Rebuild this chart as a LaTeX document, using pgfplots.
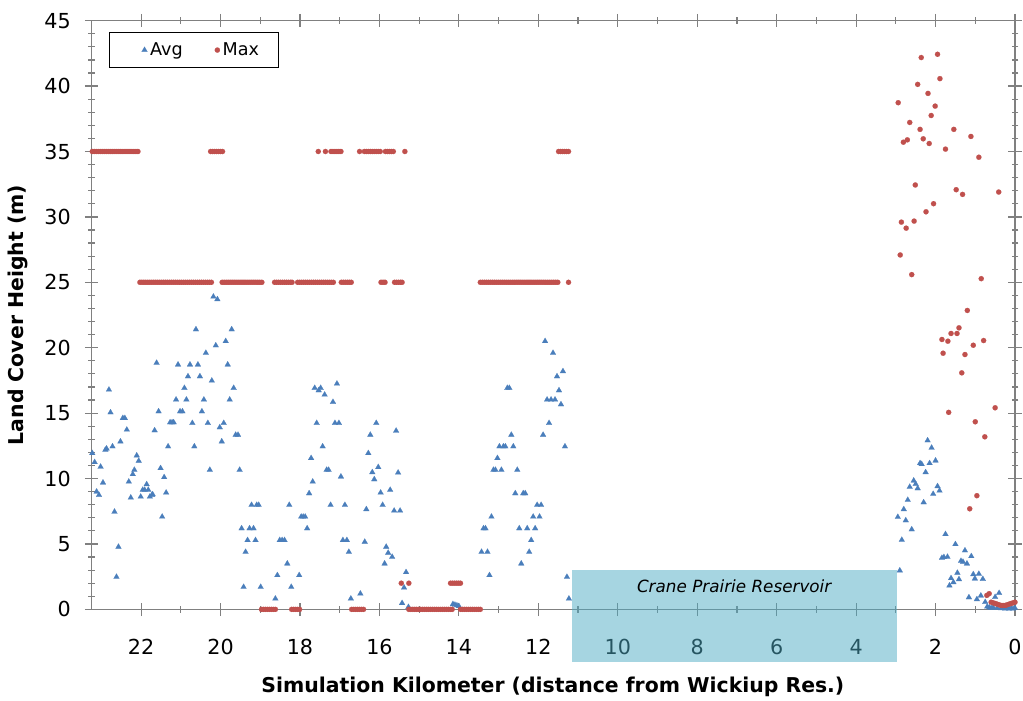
\documentclass[border=0pt]{standalone}
\usepackage{pgfplots}
\pgfplotsset{compat=1.18}
\usepackage{fontspec}
\setmainfont{DejaVu Sans}
\definecolor{avgblue}{RGB}{74,126,187}
\definecolor{maxred}{RGB}{192,80,77}
\definecolor{resv}{RGB}{77,171,195}
\definecolor{axgray}{RGB}{128,128,128}

\pgfplotstableread{
x y
23.23 11.94
23.17 11.25
23.12 9.00
23.06 8.74
23.02 10.90
22.96 9.69
22.90 12.19
22.87 12.29
22.81 16.79
22.77 15.05
22.72 12.45
22.67 7.46
22.62 2.48
22.57 4.78
22.52 12.83
22.46 14.62
22.41 14.62
22.36 13.73
22.31 9.76
22.26 8.54
22.21 10.33
22.17 10.66
22.11 11.76
22.06 11.35
22.01 8.61
21.96 9.13
21.91 9.13
21.86 9.56
21.82 9.13
21.78 8.61
21.73 8.74
21.71 8.79
21.66 13.68
21.61 18.84
21.56 15.13
21.51 10.79
21.47 7.08
21.42 10.10
21.37 8.92
21.32 12.45
21.27 14.29
21.22 14.29
21.18 14.29
21.12 16.03
21.07 18.71
21.02 15.13
20.96 15.13
20.91 16.92
20.86 16.03
20.82 17.81
20.77 18.71
20.71 14.24
20.66 12.45
20.62 21.40
20.57 18.71
20.52 17.81
20.47 15.13
20.42 16.03
20.37 19.60
20.32 14.24
20.27 10.66
20.22 17.48
20.18 23.90
20.12 20.17
20.08 23.70
20.02 13.91
19.97 12.83
19.92 14.24
19.87 20.50
19.82 18.71
19.77 16.03
19.72 21.40
19.67 16.92
19.62 13.34
19.56 13.34
19.52 10.66
19.47 6.19
19.42 1.71
19.37 4.39
19.32 5.29
19.27 6.19
19.22 7.98
19.17 6.19
19.12 5.29
19.09 7.98
19.04 7.98
18.99 1.71
18.62 0.82
18.57 2.61
18.51 5.29
18.45 5.29
18.39 5.29
18.32 3.50
18.27 7.98
18.22 1.71
18.02 2.61
17.97 7.08
17.92 7.08
17.87 7.08
17.82 6.19
17.77 8.87
17.72 11.56
17.68 9.76
17.63 16.92
17.58 14.24
17.53 16.74
17.48 16.92
17.43 12.45
17.38 16.41
17.33 10.66
17.28 10.66
17.23 7.98
17.17 15.85
17.12 14.24
17.07 17.25
17.02 14.24
16.97 10.15
16.92 5.29
16.87 7.98
16.82 5.29
16.77 4.39
16.72 0.82
16.48 1.20
16.37 5.16
16.33 7.65
16.28 11.94
16.23 13.34
16.18 10.48
16.13 9.94
16.08 14.24
16.03 10.87
15.97 8.92
15.92 7.98
15.87 3.50
15.83 4.78
15.78 4.32
15.73 9.13
15.68 4.01
15.63 7.54
15.58 13.65
15.53 10.45
15.48 7.54
15.43 0.48
15.38 1.66
15.33 2.84
15.27 0.18
14.15 0.40
14.10 0.35
14.05 0.30
14.00 0.25
13.43 4.39
13.38 6.19
13.33 6.19
13.28 4.39
13.23 2.61
13.18 7.08
13.13 10.66
13.08 10.66
13.03 11.56
12.98 12.45
12.93 10.66
12.88 12.45
12.83 12.45
12.78 16.92
12.73 16.92
12.68 13.34
12.63 12.45
12.58 8.87
12.53 10.66
12.48 6.19
12.43 3.50
12.38 8.87
12.33 8.87
12.28 6.19
12.23 4.39
12.18 5.29
12.13 7.08
12.08 6.19
12.03 7.98
11.97 7.08
11.93 7.98
11.88 13.34
11.83 20.50
11.78 16.03
11.73 14.24
11.68 16.03
11.63 19.60
11.58 16.03
11.53 17.81
11.48 16.74
11.43 15.67
11.38 18.20
11.33 12.45
11.28 2.48
11.23 0.82
2.95 7.06
2.90 2.97
2.85 5.31
2.80 7.65
2.75 6.80
2.70 8.36
2.65 9.36
2.60 6.11
2.55 9.84
2.50 9.58
2.45 9.25
2.39 11.17
2.35 11.10
2.30 8.18
2.25 10.48
2.20 12.91
2.15 11.17
2.10 12.35
2.06 8.82
2.00 11.37
1.95 9.41
1.90 9.07
1.84 3.93
1.79 3.99
1.75 5.75
1.70 4.01
1.65 1.82
1.61 2.38
1.55 2.07
1.50 4.98
1.45 2.79
1.41 2.30
1.36 3.70
1.31 3.63
1.26 4.50
1.21 3.50
1.16 0.92
1.10 4.06
1.05 2.68
1.01 2.35
0.96 0.77
0.91 2.71
0.86 1.05
0.81 2.32
0.75 0.56
0.70 0.20
0.65 0.15
0.60 0.10
0.55 0.15
0.50 0.94
0.45 0.10
0.40 1.25
0.35 0.08
0.30 0.10
0.25 0.05
0.20 0.10
0.15 0.05
0.10 0.08
0.05 0.05
0.00 0.10
}\avgdata

\pgfplotstableread{
x y
23.23 35
23.18 35
23.13 35
23.08 35
23.03 35
22.98 35
22.93 35
22.88 35
22.83 35
22.78 35
22.73 35
22.68 35
22.63 35
22.58 35
22.53 35
22.48 35
22.43 35
22.38 35
22.33 35
22.28 35
22.23 35
22.18 35
22.13 35
22.08 35
22.03 25
21.98 25
21.93 25
21.88 25
21.83 25
21.78 25
21.73 25
21.68 25
21.63 25
21.58 25
21.53 25
21.48 25
21.43 25
21.38 25
21.33 25
21.28 25
21.23 25
21.18 25
21.13 25
21.08 25
21.03 25
20.98 25
20.93 25
20.88 25
20.83 25
20.78 25
20.73 25
20.68 25
20.63 25
20.58 25
20.53 25
20.48 25
20.43 25
20.38 25
20.33 25
20.28 25
20.23 25
20.25 35
20.20 35
20.15 35
20.10 35
20.05 35
20.00 35
19.95 35
19.96 25
19.91 25
19.86 25
19.81 25
19.76 25
19.71 25
19.66 25
19.61 25
19.56 25
19.51 25
19.46 25
19.41 25
19.36 25
19.31 25
19.26 25
19.21 25
19.16 25
19.11 25
19.06 25
19.01 25
18.96 25
18.97 0
18.92 0
18.87 0
18.82 0
18.77 0
18.72 0
18.67 0
18.62 0
18.64 25
18.59 25
18.54 25
18.49 25
18.44 25
18.39 25
18.34 25
18.29 25
18.24 25
18.20 25
18.21 0
18.16 0
18.11 0
18.06 0
18.01 0
18.06 25
18.01 25
17.96 25
17.91 25
17.86 25
17.81 25
17.76 25
17.71 25
17.66 25
17.61 25
17.56 25
17.51 25
17.46 25
17.41 25
17.36 25
17.31 25
17.26 25
17.21 25
17.16 25
17.54 35
17.36 35
17.22 35
17.17 35
17.12 35
17.07 35
17.02 35
16.97 35
16.96 25
16.91 25
16.86 25
16.81 25
16.76 25
16.71 25
16.70 0
16.65 0
16.60 0
16.55 0
16.50 0
16.45 0
16.40 0
16.50 35
16.38 35
16.33 35
16.28 35
16.23 35
16.18 35
16.13 35
16.08 35
16.03 35
15.98 35
15.96 25
15.91 25
15.86 25
15.85 35
15.80 35
15.75 35
15.70 35
15.65 35
15.62 25
15.57 25
15.52 25
15.47 25
15.43 25
15.36 35
15.45 2
15.26 2
15.26 0
15.21 0
15.16 0
15.11 0
15.06 0
15.01 0
14.96 0
14.91 0
14.86 0
14.81 0
14.76 0
14.71 0
14.66 0
14.61 0
14.56 0
14.51 0
14.46 0
14.41 0
14.36 0
14.31 0
14.26 0
14.21 0
14.17 0
14.21 2
14.16 2
14.11 2
14.06 2
14.01 2
13.96 2
13.96 0
13.91 0
13.86 0
13.81 0
13.76 0
13.71 0
13.66 0
13.61 0
13.56 0
13.51 0
13.46 0
13.46 25
13.41 25
13.36 25
13.31 25
13.26 25
13.21 25
13.16 25
13.11 25
13.06 25
13.01 25
12.96 25
12.91 25
12.86 25
12.81 25
12.76 25
12.71 25
12.66 25
12.61 25
12.56 25
12.51 25
12.46 25
12.41 25
12.36 25
12.31 25
12.26 25
12.21 25
12.16 25
12.11 25
12.06 25
12.01 25
11.96 25
11.91 25
11.86 25
11.81 25
11.76 25
11.71 25
11.66 25
11.61 25
11.56 25
11.51 25
11.24 25
11.49 35
11.44 35
11.39 35
11.34 35
11.29 35
11.24 35
2.94 38.73
2.89 27.09
2.86 29.60
2.81 35.71
2.74 29.14
2.71 35.89
2.65 37.22
2.60 25.59
2.54 29.68
2.51 32.44
2.45 40.13
2.39 36.69
2.36 42.18
2.31 35.97
2.24 30.39
2.19 39.44
2.16 35.61
2.11 37.75
2.05 31.01
2.01 38.47
1.95 42.43
1.89 40.57
1.84 20.63
1.81 19.58
1.75 35.18
1.69 20.50
1.67 15.06
1.61 21.09
1.54 36.69
1.48 32.08
1.46 21.09
1.41 21.52
1.34 18.08
1.32 31.72
1.26 19.48
1.20 22.85
1.14 7.69
1.11 36.15
1.05 20.19
1.00 14.34
0.96 8.69
0.91 34.56
0.85 25.28
0.79 20.55
0.76 13.19
0.71 1.07
0.65 1.20
0.60 0.55
0.55 0.50
0.50 15.41
0.50 0.45
0.45 0.40
0.41 31.90
0.40 0.35
0.35 0.30
0.30 0.30
0.25 0.30
0.20 0.35
0.15 0.40
0.10 0.45
0.05 0.50
0.00 0.55
}\maxdata

\begin{document}
\begin{tikzpicture}
\begin{axis}[
  scale only axis, width=692.6pt, height=441.5pt,
  xmin=0, xmax=23.25, ymin=0, ymax=45,
  x dir=reverse,
  xtick={0,2,...,22}, ytick={0,5,...,45},
  minor x tick num=1, minor y tick num=4,
  tick align=center,
  major tick length=10pt, minor tick length=5pt,
  axis line style={axgray, line width=1pt},
  every tick/.style={axgray, line width=0.9pt},
  clip=false,
  /pgf/number format/assume math mode=true,
  tick label style={font=\fontsize{15.5}{18}\selectfont},
  yticklabel style={anchor=east, inner sep=0pt},
  yticklabel shift=10.4pt,
  xticklabel style={anchor=north, inner sep=0pt},
  xticklabel shift=17.5pt,
  xlabel={Simulation Kilometer (distance from Wickiup Res.)},
  ylabel={Land Cover Height (m)},
  label style={font=\bfseries\fontsize{15.3}{18}\selectfont},
  xlabel style={at={(axis description cs:0.4996,0)}, anchor=base, yshift=-62.25pt},
  ylabel style={at={(axis description cs:-0.0731,0.5)}, anchor=base},
  legend columns=2,
  legend image code/.code={\path[draw=none,fill=none] (-13.5pt,0pt) -- (1.5pt,0pt); \draw[#1] plot coordinates {(0pt,0pt)};},
  legend style={at={(axis description cs:0,1)}, anchor=north west, xshift=13.1pt, yshift=-8.5pt,
    draw=black, line width=0.8pt, font=\fontsize{13.2}{15}\selectfont,
    inner xsep=12.8pt, inner ysep=5.6pt,
    /tikz/every even column/.append style={column sep=10.5pt}},
]
\addplot[only marks, mark=triangle*, mark size=2.5pt, color=avgblue,
  mark options={draw=avgblue, fill=avgblue, line width=0.1pt}] table[x=x,y=y] {\avgdata};
\addlegendentry{Avg}
\addplot[only marks, mark=*, mark size=1.95pt, color=maxred,
  mark options={draw=maxred, fill=maxred, line width=0.1pt}] table[x=x,y=y] {\maxdata};
\addlegendentry{Max}
\coordinate (ra) at (axis cs:11.15,-4);
\coordinate (rb) at (axis cs:2.97,3);
\coordinate (rt) at (axis cs:7.07,1.78);
\coordinate (LL) at (rel axis cs:0,0);
\end{axis}
\fill[resv, fill opacity=0.5] (ra) rectangle (rb);
\node[font=\itshape\fontsize{12.6}{15}\selectfont] at (rt) {Crane Prairie Reservoir};
\pgfresetboundingbox
\path (LL) ++(-68.6pt,-68pt) rectangle ++(767.2pt,525pt);
\end{tikzpicture}
\end{document}
